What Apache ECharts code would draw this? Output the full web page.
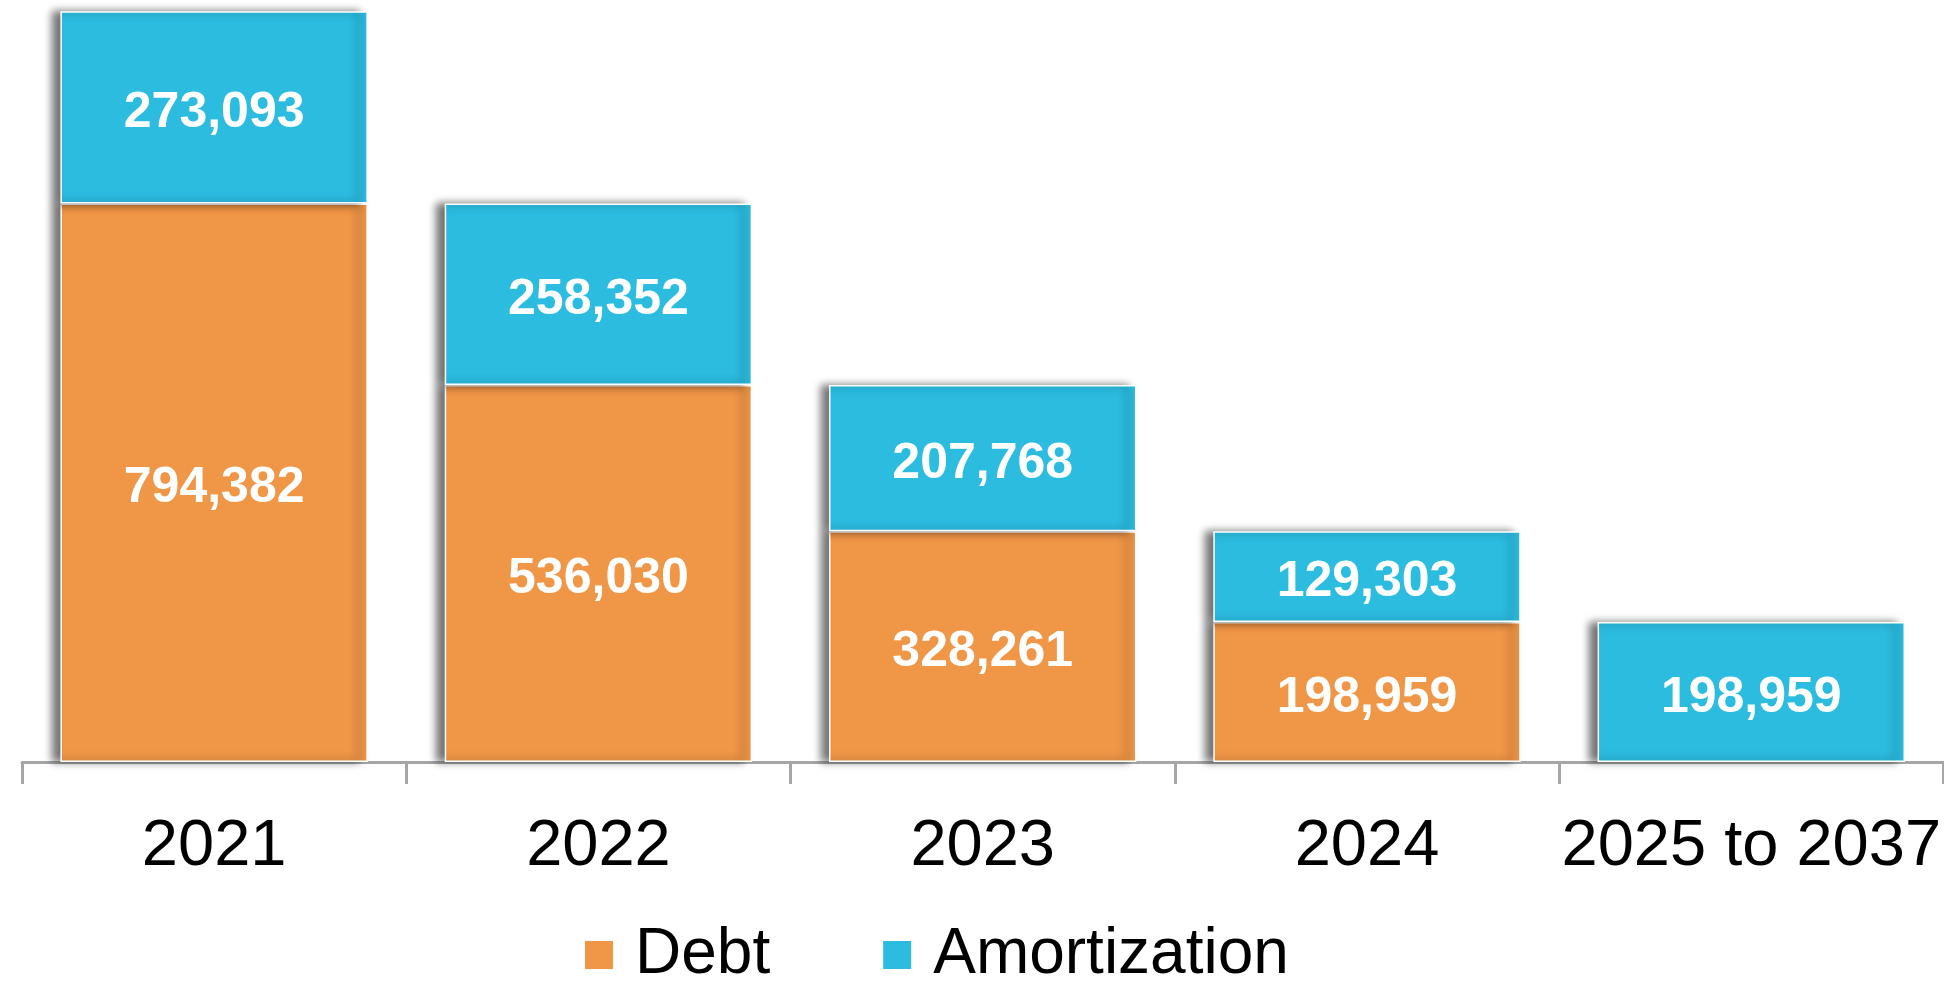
<!DOCTYPE html>
<html>
<head>
<meta charset="utf-8">
<script src="https://cdn.jsdelivr.net/npm/echarts@6/dist/echarts.min.js"></script>
<style>
html,body{margin:0;padding:0;background:#fff;}
#main{width:1944px;height:987px;}
</style>
</head>
<body>
<div id="main"></div>
<script>
const categories = ['2021', '2022', '2023', '2024', '2025 to 2037'];
const debt = [794382, 536030, 328261, 198959, null];
const amortization = [273093, 258352, 207768, 129303, 198959];
const seriesNames = ['Debt', 'Amortization'];

const FONT = '"Liberation Sans", Arial, sans-serif';
const fmt = p => (p.value == null ? '' : Number(p.value).toLocaleString('en-US'));

const chart = echarts.init(document.getElementById('main'));
const common = {
  type: 'bar',
  stack: 'total',
  barWidth: '80%',
  label: {
    show: true,
    position: 'inside',
    offset: [0, 6],
    color: '#fff',
    fontFamily: FONT,
    fontWeight: 'bold',
    fontSize: 50,
    formatter: fmt
  }
};
const shadow = {
  borderColor: '#fff',
  borderWidth: 1.5,
  shadowColor: 'rgba(0,0,0,0.55)',
  shadowBlur: 8,
  shadowOffsetX: -8
};
chart.setOption({
  animation: false,
  grid: { left: 22, right: 0, top: 11, bottom: 225 },
  legend: {
    data: seriesNames,
    left: 578,
    top: 918,
    icon: 'rect',
    itemWidth: 30,
    itemHeight: 30,
    itemGap: 111,
    textStyle: { fontFamily: FONT, fontSize: 64, color: '#000', padding: [0, 0, 0, 16] }
  },
  xAxis: {
    type: 'category',
    data: categories,
    axisLine: { lineStyle: { color: '#A6A6A6', width: 3 } },
    axisTick: { show: true, interval: 0, length: 22, lineStyle: { color: '#A6A6A6', width: 3 } },
    axisLabel: { interval: 0, fontFamily: FONT, fontSize: 65, color: '#000', margin: 53 }
  },
  yAxis: {
    type: 'value',
    min: 0,
    max: 1068000,
    show: false,
    splitLine: { show: false }
  },
  series: [
    Object.assign({}, common, {
      name: seriesNames[0],
      data: debt,
      itemStyle: Object.assign({ color: '#F09647' }, shadow)
    }),
    Object.assign({}, common, {
      name: seriesNames[1],
      data: amortization,
      itemStyle: Object.assign({ color: '#2BBCE0' }, shadow)
    })
  ]
});
</script>
</body>
</html>
